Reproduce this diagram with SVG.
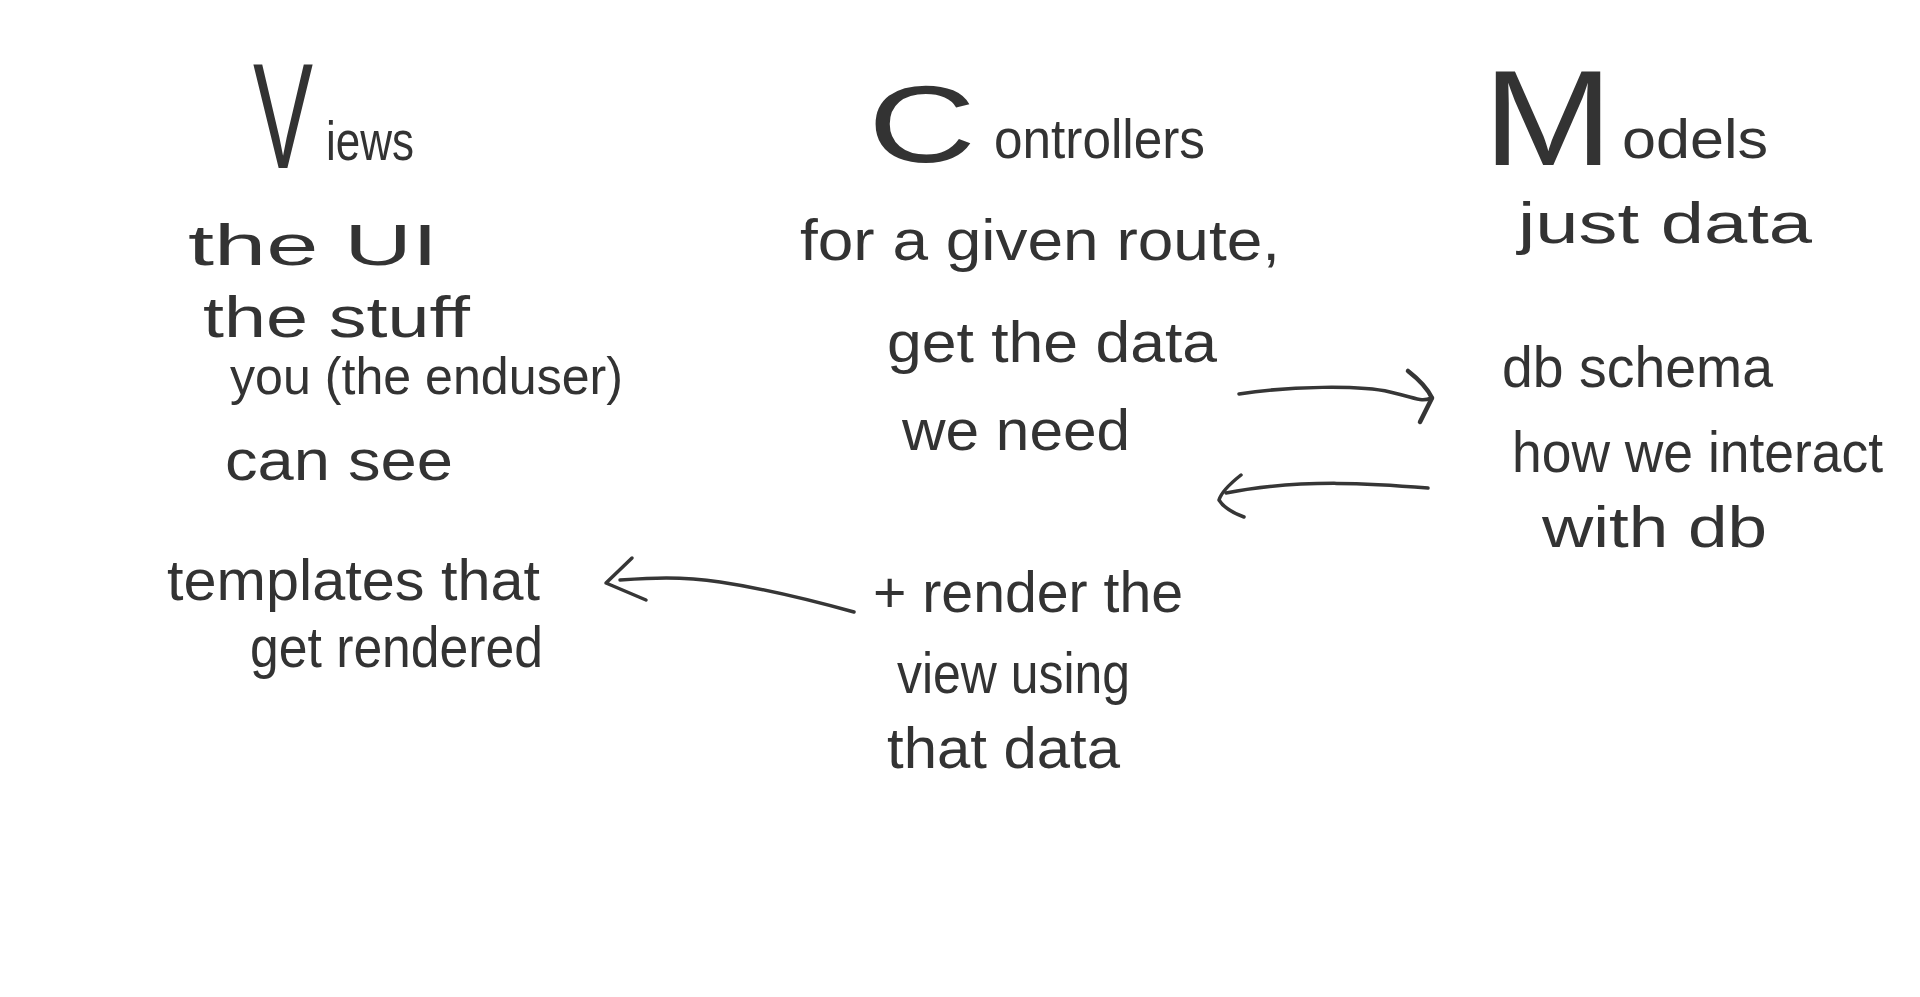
<svg xmlns="http://www.w3.org/2000/svg" width="1920" height="997" viewBox="0 0 1920 997">
<style>
  text { font-family: "Liberation Sans", "DejaVu Sans", sans-serif; fill: #333333; font-size: 58px; }
  .mid { font-size: 56px; }
  .conn { fill: none; stroke: #363636; stroke-width: 3.5; stroke-linecap: round; stroke-linejoin: round; }
</style>
<rect width="1920" height="997" fill="#ffffff"/>
<g id="views">
  <text transform="translate(253,168) scale(0.6,1)" style="font-size:150px">V</text>
  <text class="mid" x="326" y="160" textLength="88" lengthAdjust="spacingAndGlyphs">iews</text>
  <text x="188" y="265" textLength="250" lengthAdjust="spacingAndGlyphs">the UI</text>
  <text x="203" y="337" textLength="267" lengthAdjust="spacingAndGlyphs">the stuff</text>
  <text x="230" y="394" style="font-size:52px" textLength="393" lengthAdjust="spacingAndGlyphs">you (the enduser)</text>
  <text x="225" y="480" textLength="228" lengthAdjust="spacingAndGlyphs">can see</text>
</g>
<g id="templates">
  <text x="167" y="600" textLength="373" lengthAdjust="spacingAndGlyphs">templates that</text>
  <text x="250" y="667" textLength="293" lengthAdjust="spacingAndGlyphs">get rendered</text>
</g>
<g id="controllers">
  <text x="868" y="162" style="font-size:110px" textLength="108" lengthAdjust="spacingAndGlyphs">C</text>
  <text class="mid" x="994" y="158" textLength="211" lengthAdjust="spacingAndGlyphs">ontrollers</text>
  <text x="800" y="260" textLength="480" lengthAdjust="spacingAndGlyphs">for a given route,</text>
  <text x="887" y="362" textLength="330" lengthAdjust="spacingAndGlyphs">get the data</text>
  <text x="902" y="450" textLength="228" lengthAdjust="spacingAndGlyphs">we need</text>
</g>
<g id="render">
  <text x="873" y="612" textLength="310" lengthAdjust="spacingAndGlyphs">+ render the</text>
  <text x="897" y="693" textLength="233" lengthAdjust="spacingAndGlyphs">view using</text>
  <text x="887" y="768" textLength="233" lengthAdjust="spacingAndGlyphs">that data</text>
</g>
<g id="models">
  <text x="1483" y="165" style="font-size:135px" textLength="130" lengthAdjust="spacingAndGlyphs">M</text>
  <text class="mid" x="1622" y="158" textLength="146" lengthAdjust="spacingAndGlyphs">odels</text>
  <text x="1518" y="243" textLength="294" lengthAdjust="spacingAndGlyphs">just data</text>
  <text x="1502" y="387" textLength="271" lengthAdjust="spacingAndGlyphs">db schema</text>
  <text x="1512" y="472" textLength="371" lengthAdjust="spacingAndGlyphs">how we interact</text>
  <text x="1542" y="547" textLength="225" lengthAdjust="spacingAndGlyphs">with db</text>
</g>
<g id="connectors">
  <path class="conn" d="M1239,394 C1290,386 1360,385 1390,392 S1420,402 1432,398"/>
  <path class="conn" d="M1408,371 Q1426,385 1432,398 Q1426,410 1420,422" style="stroke-width:4.5"/>
  <path class="conn" d="M1428,488 C1380,484 1300,478 1226,493"/>
  <path class="conn" d="M1241,475 Q1222,490 1219,500 Q1225,510 1244,517"/>
  <path class="conn" d="M854,612 C800,597 760,588 720,582 S650,578 620,580"/>
  <path class="conn" d="M632,558 L606,583 L646,600"/>
</g>
</svg>
